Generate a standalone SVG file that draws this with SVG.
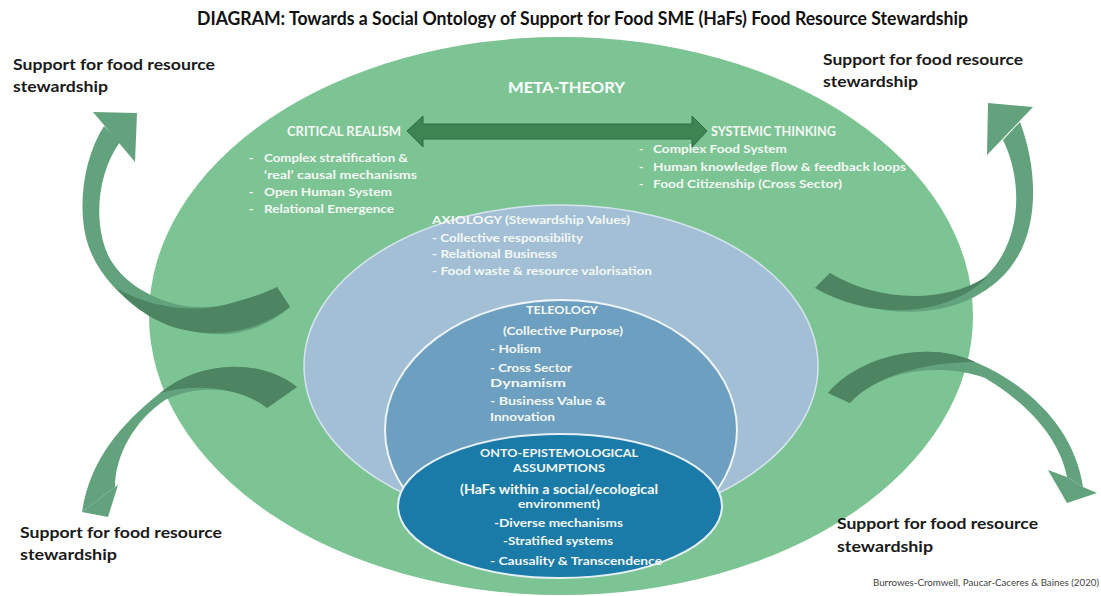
<svg xmlns="http://www.w3.org/2000/svg" width="1101" height="596" viewBox="0 0 1101 596">
  <style>
    text { font-family: "Lato", "Liberation Sans", sans-serif; font-weight: bold; }
    .title { font-size: 18px; fill: #111; }
    .label { font-size: 16px; fill: #1a1a1a; }
    .head { font-size: 15px; fill: #ffffff; }
    .sub { font-size: 12.5px; fill: #f4f8f4; }
    .item { font-size: 12px; fill: #f4f8f4; }
    .cite { font-size: 8.5px; fill: #444; font-weight: normal; }
    .band { fill: #62a27c; }
    .tail { fill: #4d8462; }
  </style>

  <rect width="1101" height="596" fill="#ffffff"/>

  <text class="title" x="197" y="25" textLength="771" lengthAdjust="spacingAndGlyphs">DIAGRAM: Towards a Social Ontology of Support for Food SME (HaFs) Food Resource Stewardship</text>

  <!-- outer layer: meta-theory -->
  <g id="meta-theory">
    <ellipse cx="561" cy="316" rx="412" ry="279" fill="#7dc494"/>
    <text class="head" x="508" y="93" textLength="117" lengthAdjust="spacingAndGlyphs">META-THEORY</text>
  </g>

  <g id="critical-realism">
    <text class="sub" x="287" y="136" textLength="114" lengthAdjust="spacingAndGlyphs">CRITICAL REALISM</text>
    <text class="item" x="249" y="162">-</text>
    <text class="item" x="264" y="162" textLength="144" lengthAdjust="spacingAndGlyphs">Complex stratification  &amp;</text>
    <text class="item" x="264" y="179" textLength="153" lengthAdjust="spacingAndGlyphs">‘real’ causal mechanisms</text>
    <text class="item" x="249" y="196">-</text>
    <text class="item" x="264" y="196" textLength="128" lengthAdjust="spacingAndGlyphs">Open Human System</text>
    <text class="item" x="249" y="213">-</text>
    <text class="item" x="264" y="213" textLength="130" lengthAdjust="spacingAndGlyphs">Relational Emergence</text>
  </g>

  <g id="systemic-thinking">
    <text class="sub" x="711" y="136" textLength="125" lengthAdjust="spacingAndGlyphs">SYSTEMIC THINKING</text>
    <text class="item" x="639" y="153">-</text>
    <text class="item" x="653" y="153" textLength="134" lengthAdjust="spacingAndGlyphs">Complex Food System</text>
    <text class="item" x="639" y="171">-</text>
    <text class="item" x="653" y="171" textLength="253" lengthAdjust="spacingAndGlyphs">Human knowledge flow &amp; feedback loops</text>
    <text class="item" x="639" y="188">-</text>
    <text class="item" x="653" y="188" textLength="189" lengthAdjust="spacingAndGlyphs">Food Citizenship (Cross Sector)</text>
  </g>

  <!-- axiology layer -->
  <g id="axiology">
    <ellipse cx="561" cy="366" rx="257" ry="161" fill="#a2bfd5" stroke="#d6e4ee" stroke-width="1.5"/>
    <text class="item" x="432" y="224" textLength="198" lengthAdjust="spacingAndGlyphs">AXIOLOGY (Stewardship Values)</text>
    <text class="item" x="432" y="242" textLength="151" lengthAdjust="spacingAndGlyphs">- Collective responsibility</text>
    <text class="item" x="432" y="258" textLength="125" lengthAdjust="spacingAndGlyphs">- Relational Business</text>
    <text class="item" x="432" y="275" textLength="220" lengthAdjust="spacingAndGlyphs">- Food waste &amp; resource valorisation</text>
  </g>

  <!-- teleology layer -->
  <g id="teleology">
    <ellipse cx="561" cy="430" rx="176" ry="130" fill="#6c9fc0" stroke="#eef4f8" stroke-width="2"/>
    <text class="item" x="526" y="314" textLength="72" lengthAdjust="spacingAndGlyphs">TELEOLOGY</text>
    <text class="item" x="503" y="335" textLength="120" lengthAdjust="spacingAndGlyphs">(Collective Purpose)</text>
    <text class="item" x="490" y="353" textLength="51" lengthAdjust="spacingAndGlyphs">- Holism</text>
    <text class="item" x="490" y="372" textLength="82" lengthAdjust="spacingAndGlyphs">- Cross Sector</text>
    <text class="item" x="490" y="387" textLength="76" lengthAdjust="spacingAndGlyphs">Dynamism</text>
    <text class="item" x="490" y="405" textLength="116" lengthAdjust="spacingAndGlyphs">-  Business Value &amp;</text>
    <text class="item" x="490" y="421" textLength="65" lengthAdjust="spacingAndGlyphs">Innovation</text>
  </g>

  <!-- onto-epistemological core -->
  <g id="onto-epistemological">
    <ellipse cx="560" cy="506" rx="162" ry="72" fill="#1b7ba8" stroke="#e6eff5" stroke-width="2"/>
    <text class="item" x="480" y="457" textLength="158" lengthAdjust="spacingAndGlyphs">ONTO-EPISTEMOLOGICAL</text>
    <text class="item" x="513" y="472" textLength="92" lengthAdjust="spacingAndGlyphs">ASSUMPTIONS</text>
    <text class="sub" x="460" y="494" textLength="198" lengthAdjust="spacingAndGlyphs">(HaFs within a social/ecological</text>
    <text class="item" x="518" y="508" textLength="82" lengthAdjust="spacingAndGlyphs">environment)</text>
    <text class="item" x="494" y="527" textLength="129" lengthAdjust="spacingAndGlyphs">-Diverse mechanisms</text>
    <text class="item" x="503" y="545" textLength="110" lengthAdjust="spacingAndGlyphs">-Stratified systems</text>
    <text class="item" x="490" y="565" textLength="172" lengthAdjust="spacingAndGlyphs">- Causality &amp; Transcendence</text>
  </g>

  <!-- outside labels -->
  <g id="label-top-left">
    <text class="label" x="13" y="70" textLength="202" lengthAdjust="spacingAndGlyphs">Support for food resource</text>
    <text class="label" x="13" y="92" textLength="95" lengthAdjust="spacingAndGlyphs">stewardship</text>
  </g>
  <g id="label-top-right">
    <text class="label" x="823" y="65" textLength="200" lengthAdjust="spacingAndGlyphs">Support for food resource</text>
    <text class="label" x="823" y="87" textLength="95" lengthAdjust="spacingAndGlyphs">stewardship</text>
  </g>
  <g id="label-bottom-left">
    <text class="label" x="20" y="538" textLength="202" lengthAdjust="spacingAndGlyphs">Support for food resource</text>
    <text class="label" x="20" y="560" textLength="97" lengthAdjust="spacingAndGlyphs">stewardship</text>
  </g>
  <g id="label-bottom-right">
    <text class="label" x="837" y="529" textLength="201" lengthAdjust="spacingAndGlyphs">Support for food resource</text>
    <text class="label" x="837" y="552" textLength="96" lengthAdjust="spacingAndGlyphs">stewardship</text>
  </g>

  <text class="cite" x="873" y="586" textLength="226" lengthAdjust="spacingAndGlyphs">Burrowes-Cromwell, Paucar-Caceres &amp; Baines (2020)</text>

  <!-- connectors -->
  <g id="connectors">
    <!-- two-way link between the meta-theories -->
    <polygon points="407,131 423,116 423,124 692,124 692,116 707,131 692,147 692,139 423,139 423,147" fill="#3c8452" stroke="#2f6a42" stroke-width="1"/>

    <!-- top-left curved arrow -->
    <path class="band" d="M 104,126 C 82,160 76,215 90,250 C 110,300 170,338 230,334 C 258,330 278,318 290,307 L 277,287 C 250,302 215,310 185,306 C 150,300 120,280 108,255 C 94,225 96,175 120,142 Z"/>
    <path class="tail" d="M 277,287 L 290,307 C 260,330 220,338 185,330 C 160,325 135,310 116,288 C 150,308 190,312 220,306 C 245,300 265,293 277,287 Z"/>
    <polygon class="band" points="93,112 137,113 135,162"/>

    <!-- top-right curved arrow -->
    <path class="band" d="M 1020,122 C 1038,170 1040,230 1010,268 C 975,312 900,330 815,288 L 830,273 C 880,305 950,305 985,277 C 1020,245 1025,185 1003,140 Z"/>
    <path class="tail" d="M 815,288 L 830,273 C 875,300 940,306 988,276 C 955,312 880,325 815,288 Z"/>
    <polygon class="band" points="988,103 1033,107 987,155"/>

    <!-- bottom-left curved arrow -->
    <path class="band" d="M 297,387 C 260,358 200,360 160,393 C 120,425 90,460 82,512 L 115,487 C 115,455 135,420 165,400 C 195,385 240,385 267,408 Z"/>
    <path class="tail" d="M 297,387 C 260,358 200,360 160,393 C 195,383 240,387 267,408 Z"/>
    <polygon class="band" points="82,512 108,517 118,485 115,487"/>

    <!-- bottom-right curved arrow -->
    <path class="band" d="M 828,393 C 860,355 930,340 975,362 C 1030,385 1075,430 1083,487 L 1067,477 C 1060,440 1030,405 985,378 C 940,362 880,370 850,403 Z"/>
    <path class="tail" d="M 828,393 C 860,355 930,340 975,362 C 940,362 880,370 850,403 Z"/>
    <polygon class="band" points="1067,477 1048,470 1067,503 1097,493 1083,487"/>
  </g>
</svg>
